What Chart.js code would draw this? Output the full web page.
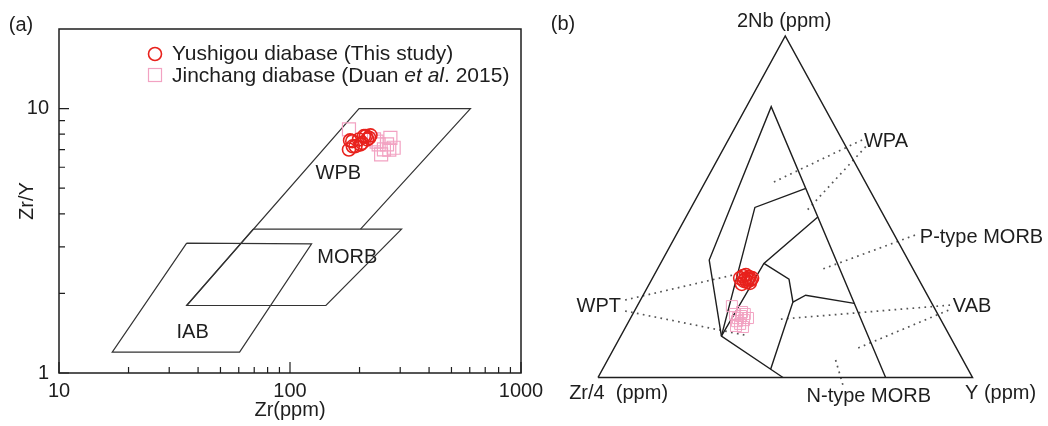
<!DOCTYPE html>
<html>
<head>
<meta charset="utf-8">
<script src="https://cdn.jsdelivr.net/npm/chart.js@4.4.1/dist/chart.umd.min.js"></script>
<style>
  body { margin: 0; background: #fff; }
  .wrap { position: relative; width: 1048px; height: 426px; overflow: hidden; }
  #chartA { position: absolute; left: 0; top: 0; }
  #chartB { position: absolute; left: 530px; top: 0; }
</style>
</head>
<body>
<div class="wrap">
  <canvas id="chartA" width="560" height="426"></canvas>
  <canvas id="chartB" width="518" height="426"></canvas>
</div>
<script>
// (a) Zr vs Zr/Y
const yushigouZr = [180, 182, 186, 187, 192, 199, 202, 205, 209, 213, 216, 220, 223];
const yushigouZrY = [7.0, 7.58, 7.53, 7.2, 7.21, 7.64, 7.32, 7.42, 7.87, 7.87, 7.65, 7.75, 7.92];
const jinchangZr = [180, 231, 237, 242, 248, 255, 263, 269, 272, 281];
const jinchangZrY = [8.35, 7.65, 7.5, 7.32, 6.71, 7.01, 7.32, 7.0, 7.75, 7.11];

const wpbZr = [202, 604, 199, 35.7];
const wpbZrY = [3.5, 10, 10, 1.8];
const morbZr = [69.3, 304, 143, 35.7, 69.3];
const morbZrY = [3.5, 3.5, 1.8, 1.8, 3.5];
const iabZr = [35.7, 124, 60.5, 17.0, 35.7];
const iabZrY = [3.1, 3.08, 1.2, 1.2, 3.1];

const xTickLabels = [10, 100, 1000];
const xMinorTicks = [20, 30, 40, 50, 60, 70, 80, 90, 200, 300, 400, 500, 600, 700, 800, 900];
const yTickLabels = [1, 10];
const yMinorTicks = [2, 3, 4, 5, 6, 7, 8, 9];

// (b) Zr/4 - 2Nb - Y, each point is [Zr/4, 2Nb, Y] in %
const yushigouTernary = [
  [47.5, 29.1, 23.4], [46.4, 29.7, 23.9], [45.5, 30.0, 24.5], [45.0, 29.4, 25.6],
  [44.3, 29.1, 26.6], [46.9, 28.3, 24.8], [46.2, 28.0, 25.8], [45.6, 27.7, 26.7],
  [47.9, 27.4, 24.7], [45.5, 28.8, 25.7], [46.3, 28.8, 24.9], [44.9, 28.6, 26.5]
];
const jinchangTernary = [
  [53.8, 20.9, 25.3], [54.1, 18.6, 27.3], [53.9, 17.4, 28.7], [52.8, 18.0, 29.2],
  [52.6, 16.8, 30.6], [54.2, 15.7, 30.1], [54.6, 16.5, 28.9], [51.5, 18.6, 29.9],
  [52.0, 19.2, 28.9], [51.2, 17.4, 31.3], [55.6, 15.1, 29.3], [53.9, 14.8, 31.3]
];

const triangle = [[100, 0, 0], [0, 100, 0], [0, 0, 100], [100, 0, 0]];
const fieldOuter = [[50.6, 0, 49.4], [61.0, 12.1, 26.9], [53.1, 34.4, 12.5], [14.1, 79.3, 6.6], [23.2, 0, 76.8]];
const fieldUpper = [[61.0, 12.1, 26.9], [33.2, 49.8, 17.0], [16.8, 55.4, 27.8]];
const fieldMiddle = [[61.0, 12.1, 26.9], [39.0, 33.4, 27.6], [17.8, 47.0, 35.2]];
const fieldLower = [[39.0, 33.4, 27.6], [34.6, 28.8, 36.6], [36.9, 22.1, 41.0], [52.7, 2.4, 44.9]];
const fieldBranch = [[36.9, 22.1, 41.0], [32.5, 24.1, 43.4], [20.7, 21.7, 57.6]];

const leaders = [
  [[-5.3, 69.5, 35.7], [25.5, 56.8, 17.7]],
  [[-5.3, 67.6, 37.7], [20.3, 48.5, 31.2]],
  [[-5.5, 41.7, 63.8], [24.9, 31.5, 43.6]],
  [[-4.6, 21.2, 83.4], [43.6, 17.0, 39.4]],
  [[-3.4, 19.7, 83.7], [26.6, 8.5, 64.9]],
  [[81.4, 22.7, -4.1], [49.0, 30.0, 21.0]],
  [[83.1, 19.5, -2.5], [54.5, 12.4, 33.0]],
  [[34.0, 5.1, 60.9], [35.7, -2.2, 66.5]]
];

const font = '"Liberation Sans", Arial, sans-serif';
const ink = '#1e1e1e';
const red = '#e8211c';
const pink = '#f2a2c2';

const pairs = (xs, ys) => xs.map((x, i) => ({ x, y: ys[i] }));

const ternaryPoint = ([zr, nb, y]) => {
  const sum = zr + nb + y;
  return { x: (y + nb / 2) / sum * 100, y: nb / sum * 100 };
};

const outline = (data, width, extra = {}) => ({
  data, showLine: true, pointRadius: 0, borderColor: ink, borderWidth: width,
  fill: false, tension: 0, clip: false, ...extra
});

const fieldNamesA = [
  { text: 'WPB', zr: 162, zrY: 5.7 },
  { text: 'MORB', zr: 177, zrY: 2.73 },
  { text: 'IAB', zr: 37.9, zrY: 1.42 }
];

const labelsB = [
  { text: '2Nb (ppm)', u: 49.7, v: 104.2 },
  { text: 'WPA', u: 76.9, v: 69.0 },
  { text: 'P-type MORB', u: 102.4, v: 41.0 },
  { text: 'VAB', u: 99.9, v: 20.7 },
  { text: 'WPT', u: 0.2, v: 20.7 },
  { text: 'N-type MORB', u: 72.3, v: -5.7 },
  { text: 'Zr/4  (ppm)', u: 5.5, v: -4.7 },
  { text: 'Y (ppm)', u: 107.5, v: -4.7 }
];

const axisFont = { family: font, size: 20 };

const panelA = {
  id: 'panelA',
  afterDraw(chart) {
    const { ctx, chartArea: area, scales: { x, y } } = chart;
    ctx.save();
    ctx.strokeStyle = ink;
    ctx.lineWidth = 1.5;
    ctx.strokeRect(area.left, area.top, area.right - area.left, area.bottom - area.top);

    ctx.lineWidth = 1.2;
    ctx.beginPath();
    xMinorTicks.forEach(v => {
      const px = x.getPixelForValue(v);
      ctx.moveTo(px, area.bottom);
      ctx.lineTo(px, area.bottom - 6);
    });
    xTickLabels.forEach(v => {
      const px = x.getPixelForValue(v);
      ctx.moveTo(px, area.bottom);
      ctx.lineTo(px, area.bottom - 11);
    });
    yMinorTicks.forEach(v => {
      const py = y.getPixelForValue(v);
      ctx.moveTo(area.left, py);
      ctx.lineTo(area.left + 6, py);
    });
    yTickLabels.forEach(v => {
      const py = y.getPixelForValue(v);
      ctx.moveTo(area.left, py);
      ctx.lineTo(area.left + 10, py);
    });
    ctx.stroke();

    ctx.fillStyle = ink;
    ctx.font = `20px ${font}`;
    ctx.textAlign = 'center';
    ctx.textBaseline = 'middle';
    fieldNamesA.forEach(f => ctx.fillText(f.text, x.getPixelForValue(f.zr), y.getPixelForValue(f.zrY)));
    ctx.fillText('(a)', 21, 25);

    // legend
    const sets = chart.data.datasets;
    ctx.lineWidth = 1.6;
    ctx.strokeStyle = sets[0].borderColor;
    ctx.beginPath();
    ctx.arc(155, 54, 6.5, 0, Math.PI * 2);
    ctx.stroke();
    ctx.lineWidth = 1.2;
    ctx.strokeStyle = sets[1].borderColor;
    ctx.strokeRect(148.5, 68.5, 13, 13);

    ctx.textAlign = 'left';
    ctx.font = `21px ${font}`;
    ctx.fillText(sets[0].label, 172, 54);
    let tx = 172;
    const parts = [['Jinchang diabase (Duan ', ''], ['et al', 'italic '], ['. 2015)', '']];
    parts.forEach(([txt, style]) => {
      ctx.font = `${style}21px ${font}`;
      ctx.fillText(txt, tx, 76);
      tx += ctx.measureText(txt).width;
    });
    ctx.restore();
  }
};

const panelB = {
  id: 'panelB',
  afterDraw(chart) {
    const { ctx, scales: { x, y } } = chart;
    ctx.save();
    ctx.fillStyle = ink;
    ctx.font = `20px ${font}`;
    ctx.textAlign = 'center';
    ctx.textBaseline = 'middle';
    labelsB.forEach(l => ctx.fillText(l.text, x.getPixelForValue(l.u), y.getPixelForValue(l.v)));
    ctx.fillText('(b)', 33, 24);
    ctx.restore();
  }
};

new Chart(document.getElementById('chartA'), {
  type: 'scatter',
  data: {
    datasets: [
      {
        label: 'Yushigou diabase (This study)',
        data: pairs(yushigouZr, yushigouZrY),
        pointStyle: 'circle', pointRadius: 6.5, pointBorderWidth: 1.6,
        borderColor: red, backgroundColor: 'rgba(0,0,0,0)'
      },
      {
        label: 'Jinchang diabase (Duan et al. 2015)',
        data: pairs(jinchangZr, jinchangZrY),
        pointStyle: 'rect', pointRadius: 9.2, pointBorderWidth: 1.2,
        borderColor: pink, backgroundColor: 'rgba(0,0,0,0)'
      },
      outline(pairs(wpbZr, wpbZrY), 1.2, { borderColor: '#333' }),
      outline(pairs(morbZr, morbZrY), 1.2, { borderColor: '#333' }),
      outline(pairs(iabZr, iabZrY), 1.2, { borderColor: '#333' })
    ]
  },
  options: {
    responsive: false,
    animation: false,
    events: [],
    layout: { padding: { left: 0, top: 29, right: 39, bottom: 0 } },
    plugins: { legend: { display: false }, tooltip: { enabled: false } },
    scales: {
      x: {
        type: 'logarithmic', min: 10, max: 1000,
        grid: { display: false, drawTicks: false },
        border: { display: false },
        afterBuildTicks: s => { s.ticks = xTickLabels.map(v => ({ value: v })); },
        afterFit: s => { s.height = 53; },
        ticks: { font: axisFont, color: ink, padding: 6, maxRotation: 0, autoSkip: false, callback: v => String(v) },
        title: { display: true, text: 'Zr(ppm)', font: axisFont, color: ink, padding: { top: 0, bottom: 4 } }
      },
      y: {
        type: 'logarithmic', min: 1, max: 20,
        grid: { display: false, drawTicks: false },
        border: { display: false },
        afterBuildTicks: s => { s.ticks = yTickLabels.map(v => ({ value: v })); },
        afterFit: s => { s.width = 59; },
        ticks: { font: axisFont, color: ink, padding: 10, autoSkip: false, callback: v => String(v) },
        title: { display: true, text: 'Zr/Y', font: axisFont, color: ink, padding: { top: 15, bottom: 0 } }
      }
    }
  },
  plugins: [panelA]
});

new Chart(document.getElementById('chartB'), {
  type: 'scatter',
  data: {
    datasets: [
      {
        label: 'Yushigou diabase (This study)',
        data: yushigouTernary.map(ternaryPoint),
        pointStyle: 'circle', pointRadius: 6.5, pointBorderWidth: 1.6,
        borderColor: red, backgroundColor: 'rgba(0,0,0,0)', clip: false
      },
      {
        label: 'Jinchang diabase (Duan et al. 2015)',
        data: jinchangTernary.map(ternaryPoint),
        pointStyle: 'rect', pointRadius: 7.8, pointBorderWidth: 1,
        borderColor: pink, backgroundColor: 'rgba(0,0,0,0)', clip: false
      },
      outline(triangle.map(ternaryPoint), 1.5),
      outline(fieldOuter.map(ternaryPoint), 1.4),
      outline(fieldUpper.map(ternaryPoint), 1.4),
      outline(fieldMiddle.map(ternaryPoint), 1.4),
      outline(fieldLower.map(ternaryPoint), 1.4),
      outline(fieldBranch.map(ternaryPoint), 1.4),
      ...leaders.map(l => outline(l.map(ternaryPoint), 1.7, { borderColor: '#555', borderDash: [1.7, 4.3] }))
    ]
  },
  options: {
    responsive: false,
    animation: false,
    events: [],
    layout: { padding: { left: 68, top: 36, right: 75.5, bottom: 48.5 } },
    plugins: { legend: { display: false }, tooltip: { enabled: false } },
    scales: {
      x: { type: 'linear', min: 0, max: 100, display: false },
      y: { type: 'linear', min: 0, max: 100, display: false }
    }
  },
  plugins: [panelB]
});
</script>
</body>
</html>
